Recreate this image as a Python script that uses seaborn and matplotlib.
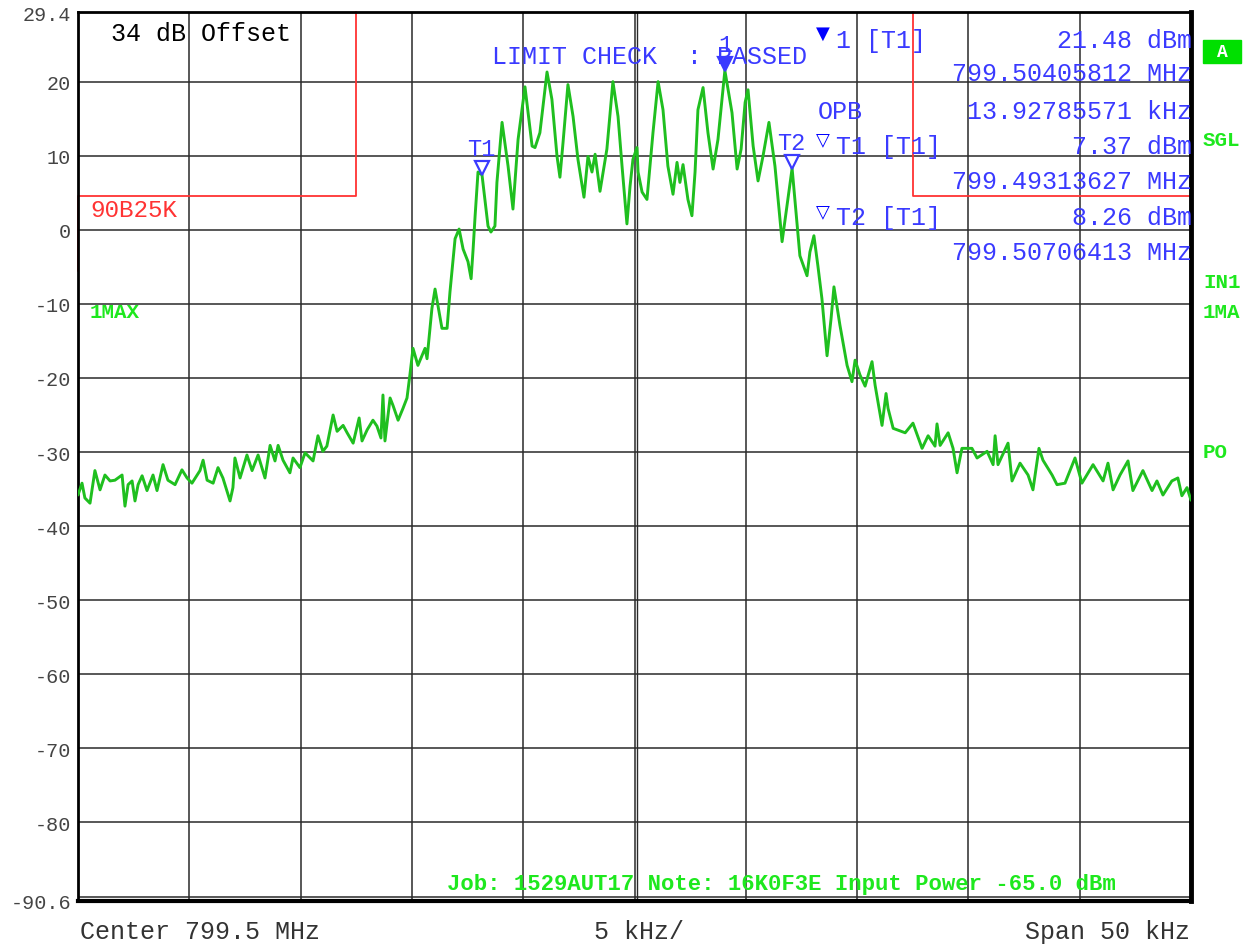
import matplotlib
matplotlib.use('Agg')
import matplotlib.pyplot as plt
from matplotlib.patches import Rectangle
from matplotlib.transforms import offset_copy
import seaborn as sns

# trace (frequency offset from centre in kHz, level in dBm)
freq_khz = [
    -25.00, -24.82, -24.69, -24.46, -24.24, -24.01, -23.79, -23.56, -23.34, -23.02,
    -22.89, -22.75, -22.57, -22.44, -22.30, -22.12, -21.90, -21.63, -21.45, -21.18,
    -20.96, -20.64, -20.33, -20.10, -19.88, -19.52, -19.38, -19.20, -18.93, -18.71,
    -18.49, -18.17, -18.04, -17.95, -17.72, -17.41, -17.18, -16.91, -16.60, -16.37,
    -16.15, -16.01, -15.79, -15.48, -15.34, -15.03, -14.80, -14.44,
    -14.22, -14.00, -13.82, -13.54, -13.36, -13.09, -12.91, -12.64, -12.37, -12.24,
    -12.01, -11.75, -11.57, -11.39, -11.30, -11.21, -10.98, -10.85, -10.62, -10.40,
    -10.22, -10.09,
    -9.95, -9.73, -9.41, -9.32, -9.10, -8.96, -8.83, -8.65, -8.42, -8.29,
    -8.06, -7.88, -7.70, -7.48, -7.34, -7.25, -7.16, -7.03, -6.85, -6.72,
    -6.58, -6.45, -6.27, -6.18, -5.95, -5.68, -5.46, -5.23, -4.92, -4.60,
    -4.47, -4.25, -3.93, -3.71, -3.48, -3.35, -3.21, -2.99, -2.76, -2.54,
    -2.27, -2.09, -1.91, -1.77, -1.55, -1.24, -0.97, -0.74, -0.56, -0.34,
    -0.20, -0.07, 0.11, 0.16, 0.34, 0.56, 0.83, 1.06, 1.28, 1.50,
    1.73, 1.91, 2.04, 2.18, 2.40, 2.58, 2.72, 2.85, 3.08, 3.30,
    3.53, 3.75, 4.06, 4.38, 4.61, 4.79, 4.97, 5.10, 5.33, 5.55,
    5.77, 6.04, 6.31, 6.63, 6.85, 7.08, 7.30, 7.43, 7.75, 7.88,
    8.06, 8.24, 8.42, 8.65, 8.83, 8.96, 9.23, 9.55, 9.77, 9.91,
    10.13, 10.36, 10.67, 10.81, 11.12, 11.30, 11.39, 11.62, 12.16, 12.51,
    12.92, 13.19, 13.50, 13.59, 13.73, 14.09, 14.31, 14.49, 14.71, 15.16,
    15.39, 15.84, 16.11, 16.20, 16.33, 16.78, 16.96, 17.32, 17.68, 17.90,
    18.17, 18.35, 18.76, 18.98, 19.34, 19.79, 20.10, 20.60, 21.05, 21.27,
    21.50, 21.81, 22.17, 22.39, 22.84, 23.25, 23.47, 23.74, 24.14, 24.41,
    24.59, 24.82, 25.00,
]
level_dbm = [
    -35.8, -34.2, -36.2, -36.9, -32.5, -35.1, -33.1, -33.9, -33.8, -33.1,
    -37.3, -34.4, -33.9, -36.6, -34.4, -33.2, -35.2, -33.1, -35.2, -31.7,
    -33.8, -34.4, -32.4, -33.5, -34.2, -32.5, -31.1, -33.8, -34.2, -32.1,
    -33.5, -36.6, -34.8, -30.8, -33.5, -30.4, -32.5, -30.4, -33.5, -29.1,
    -31.2, -29.1, -31.1, -32.8, -30.8, -32.1, -30.1, -31.2,
    -27.8, -29.9, -29.2, -25.0, -27.2, -26.4, -27.4, -28.8, -25.4, -28.5,
    -27.0, -25.7, -26.5, -28.1, -22.3, -28.5, -22.7, -23.7, -25.7, -24.1,
    -22.7, -19.6,
    -16.0, -18.3, -16.0, -17.4, -10.6, -8.0, -10.2, -13.3, -13.3, -8.4,
    -1.2, 0.1, -2.6, -4.3, -6.6, -2.6, 1.9, 7.8, 7.4, 4.1,
    0.5, -0.3, 0.5, 6.4, 14.5, 8.6, 2.8, 12.2, 19.3, 11.3,
    11.1, 13.1, 21.3, 17.6, 9.9, 7.1, 11.8, 19.6, 15.3, 9.5,
    4.4, 9.9, 7.8, 10.2, 5.2, 10.9, 20.0, 15.3, 8.6, 0.8,
    5.9, 9.5, 11.1, 7.8, 5.1, 4.1, 13.1, 20.0, 16.2, 8.6,
    4.8, 9.1, 6.4, 8.8, 4.1, 1.9, 7.8, 16.2, 19.2, 13.1,
    8.2, 12.2, 21.5, 15.8, 8.2, 10.9, 17.2, 18.9, 11.3, 6.6,
    9.9, 14.5, 8.6, -1.6, 3.2, 8.3, 0.8, -3.5, -6.2, -3.0,
    -0.8, -4.9, -9.3, -17.0, -12.0, -7.7, -12.9, -18.3, -20.5, -17.6,
    -19.6, -21.1, -17.8, -21.0, -26.4, -22.1, -24.1, -26.8, -27.4, -26.1,
    -29.5, -27.8, -29.2, -26.2, -29.1, -27.4, -29.5, -32.8, -29.5, -29.5,
    -30.8, -29.9, -31.7, -27.8, -31.7, -28.8, -33.9, -31.5, -33.1, -35.1,
    -29.5, -31.1, -33.1, -34.4, -34.2, -30.8, -34.2, -31.7, -33.9, -31.5,
    -35.1, -33.1, -31.2, -35.2, -32.5, -35.2, -33.9, -35.8, -33.9, -33.5,
    -35.9, -34.8, -36.5,
]

center_mhz = 799.5
span_khz = 50
ref_top, ref_bottom = 29.4, -90.6
grid_levels = [20, 10, 0, -10, -20, -30, -40, -50, -60, -70, -80, -90]
grid_freqs = [-20, -15, -10, -5, 0, 5, 10, 15, 20]
ytick_vals = [29.4, 20, 10, 0, -10, -20, -30, -40, -50, -60, -70, -80, -90.6]
ytick_labels = ['29.4', '20', '10', '0', '-10', '-20', '-30', '-40', '-50',
                '-60', '-70', '-80', '-90.6']

# limit line 90B25K
limit_left_f = [-25, -25, -12.5, -12.5]
limit_left_l = [-5.5, 4.5, 4.5, 29.4]
limit_right_f = [12.5, 12.5, 25, 25]
limit_right_l = [29.4, 4.5, 4.5, -5.5]

# markers
marker_names = ['1', 'T1', 'T2']
marker_freq_mhz = [799.50405812, 799.49313627, 799.50706413]
marker_level = [21.48, 7.37, 8.26]
opb_khz = 13.92785571
marker_off = [(m - center_mhz) * 1000 for m in marker_freq_mhz]

GREEN_TR = '#1fbf1f'
GREEN_TX = '#1ee81e'
BLUE = '#3a3aff'
RED = '#ff3333'

sns.set_style('white')
plt.rcParams['font.family'] = ['Liberation Mono', 'DejaVu Sans']

fig = plt.figure(figsize=(12.5, 9.45), dpi=100)
ax = fig.add_axes([78 / 1250, 1 - 902 / 945, 1113 / 1250, 889 / 945])

for g in grid_levels:
    ax.axhline(g, color='#2a2a2a', lw=1.1, zorder=1)
for g in grid_freqs:
    ax.axvline(g, color='#2a2a2a', lw=1.1, zorder=1)
ax.axvline(0.12, color='#2a2a2a', lw=1.0, zorder=1)

ax.plot(limit_left_f, limit_left_l, color=RED, lw=1.3, zorder=2, clip_on=False)
ax.plot(limit_right_f, limit_right_l, color=RED, lw=1.3, zorder=2, clip_on=False)

sns.lineplot(x=freq_khz, y=level_dbm, ax=ax, sort=False, estimator=None,
             color=GREEN_TR, lw=2.1, zorder=3, solid_joinstyle='round')

# marker triangles sit with their tip on the trace
tr_up = offset_copy(ax.transData, fig=fig, x=0, y=5, units='points')
for i, name in enumerate(marker_names):
    filled = name == '1'
    ax.plot(marker_off[i], marker_level[i], marker='v', ms=10, mew=1.6,
            mec=BLUE, mfc=BLUE if filled else 'white', transform=tr_up, zorder=5)
    ax.annotate(name, (marker_off[i], marker_level[i]), xytext=(0, 19),
                textcoords='offset points', ha='center', va='center',
                color=BLUE, fontsize=17, zorder=6)

ax.set_xlim(-span_khz / 2, span_khz / 2)
ax.set_ylim(ref_bottom, ref_top)
ax.set_xticks([])
ax.set_yticks(ytick_vals)
ax.set_yticklabels(ytick_labels)
ax.tick_params(axis='y', length=0, pad=5, labelsize=14.5, labelcolor='#444444')
ax.set_xlabel('')
ax.set_ylabel('')
for side, w in [('left', 2.0), ('top', 2.0), ('right', 3.5), ('bottom', 3.0)]:
    ax.spines[side].set_color('black')
    ax.spines[side].set_linewidth(w)
    ax.spines[side].set_visible(True)

# inside texts
ax.text(-23.52, 26.6, '34 dB Offset', color='black', fontsize=18, va='center', ha='left')
ax.text(-24.46, 2.8, '90B25K', color=RED, fontsize=17.5, va='center', ha='left')
ax.text(-24.46, -11.0, '1MAX', color=GREEN_TX, fontsize=15, fontweight='bold',
        va='center', ha='left')
ax.text(-6.40, 23.5, 'LIMIT CHECK  : PASSED', color=BLUE, fontsize=18,
        va='center', ha='left', zorder=6)

# marker info block
ax.text(8.47, 26.6, '▼', color='#0000ff', fontsize=13, ha='center', va='center',
        family='DejaVu Sans')
ax.text(8.47, 12.2, '▽', color='#0000ff', fontsize=13, ha='center', va='center',
        family='DejaVu Sans')
ax.text(8.47, 2.5, '▽', color='#0000ff', fontsize=13, ha='center', va='center',
        family='DejaVu Sans')
info_left = [(25.6, '1 [T1]'), (16.1, 'OPB'), (11.3, 'T1 [T1]'), (1.7, 'T2 [T1]')]
for y, s in info_left:
    x0 = 8.24 if s == 'OPB' else 9.05
    ax.text(x0, y, s, color=BLUE, fontsize=18, ha='left', va='center')
info_right = [
    (25.6, f'{marker_level[0]:.2f} dBm'),
    (21.1, f'{marker_freq_mhz[0]:.8f} MHz'),
    (16.1, f'{opb_khz:.8f} kHz'),
    (11.3, f'{marker_level[1]:.2f} dBm'),
    (6.6, f'{marker_freq_mhz[1]:.8f} MHz'),
    (1.7, f'{marker_level[2]:.2f} dBm'),
    (-3.0, f'{marker_freq_mhz[2]:.8f} MHz'),
]
for y, s in info_right:
    ax.text(25.05, y, s, color=BLUE, fontsize=18, ha='right', va='center')

ax.text(-8.42, -88.2, 'Job: 1529AUT17 Note: 16K0F3E Input Power -65.0 dBm',
        color=GREEN_TX, fontsize=16, fontweight='bold', ha='left', va='center')

# figure-level labels
fig.text(80 / 1250, 1 - 932 / 945, f'Center {center_mhz} MHz', fontsize=18,
         color='#333333', ha='left', va='center')
fig.text(639 / 1250, 1 - 932 / 945, f'{span_khz // 10} kHz/', fontsize=18,
         color='#333333', ha='center', va='center')
fig.text(1190 / 1250, 1 - 932 / 945, f'Span {span_khz} kHz', fontsize=18,
         color='#333333', ha='right', va='center')

fig.patches.append(Rectangle((1203 / 1250, 1 - 64 / 945), 38 / 1250, 23 / 945,
                             transform=fig.transFigure, color='#00e000'))
fig.text(1222 / 1250, 1 - 52.5 / 945, 'A', color='white', fontsize=13,
         fontweight='bold', ha='center', va='center')
for py, s in [(140, 'SGL'), (283, 'IN1'), (313, '1MA'), (453, 'PO')]:
    fig.text(1203 / 1250, 1 - py / 945, s, color=GREEN_TX, fontsize=15,
             fontweight='bold', ha='left', va='center')

fig.savefig('out.png', dpi=100)
